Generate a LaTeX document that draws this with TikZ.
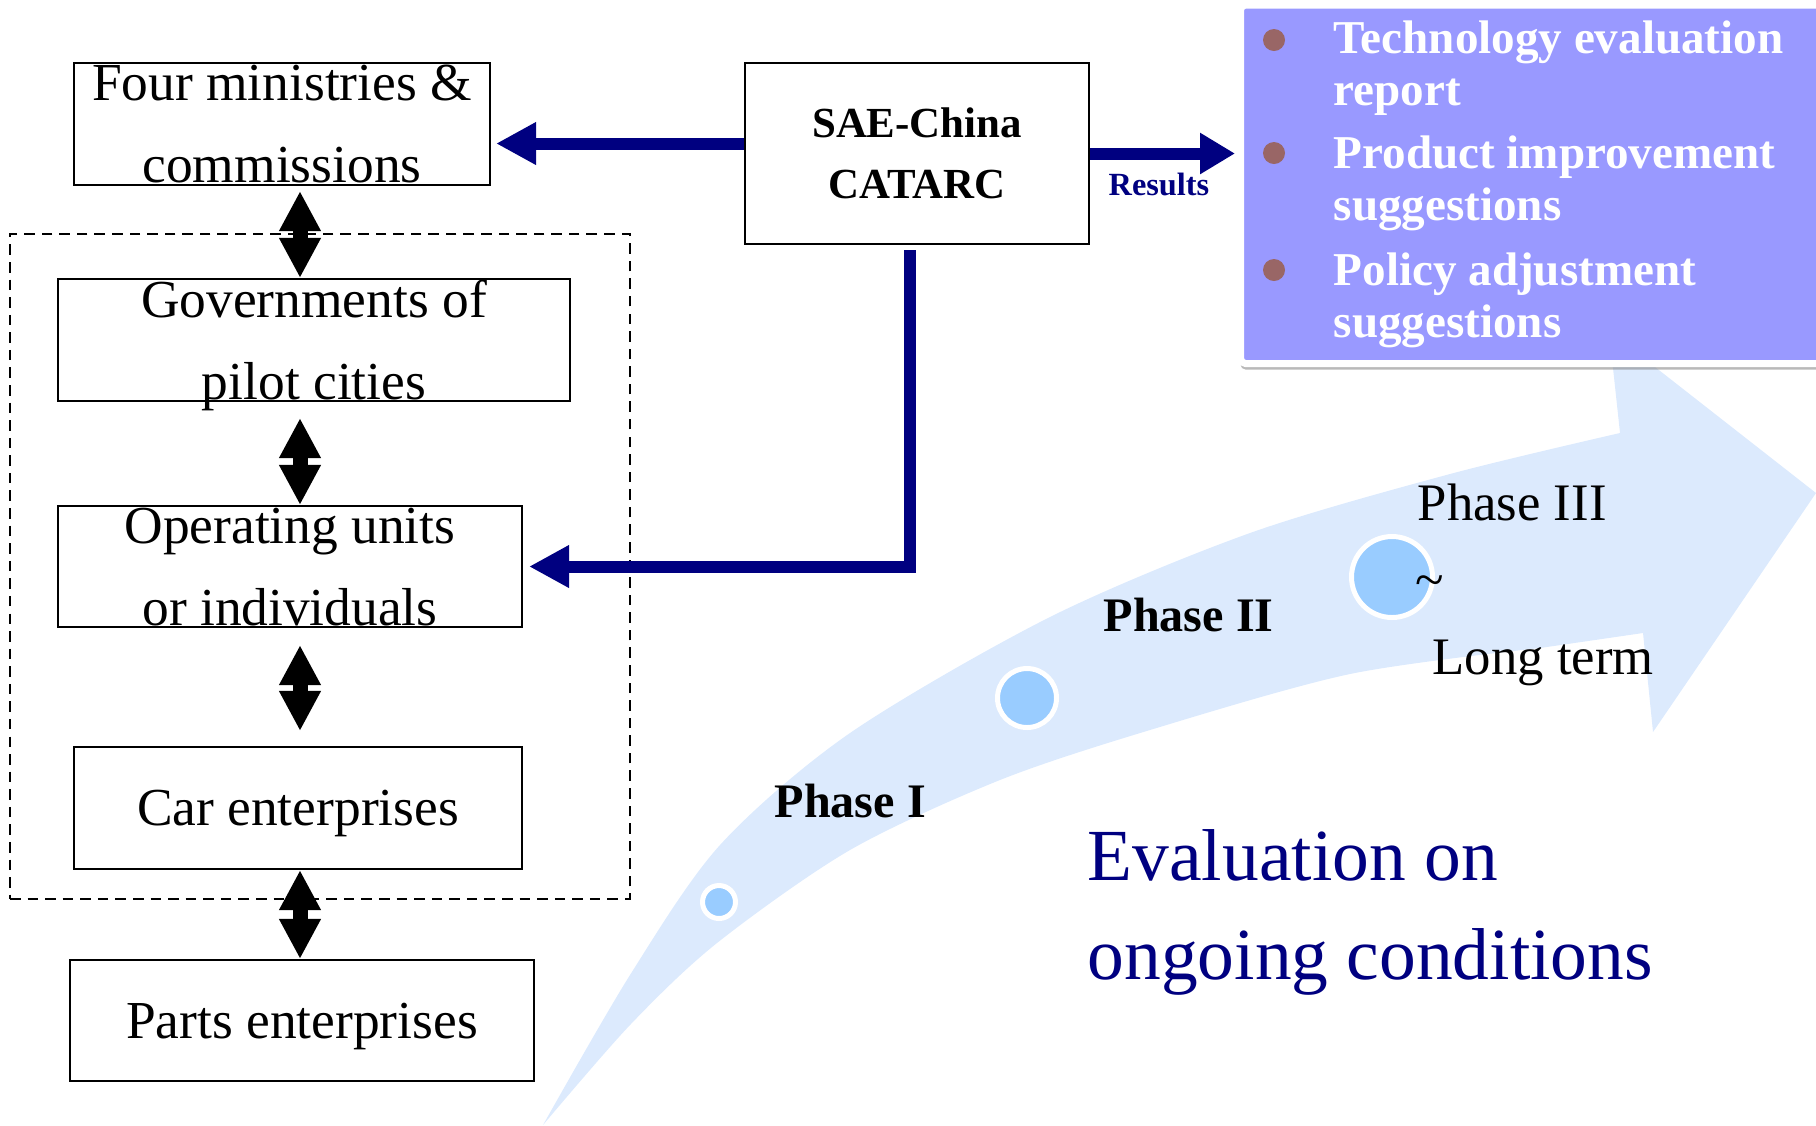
\documentclass[tikz,border=0pt]{standalone}
\usepackage{fontspec}
\setmainfont{Liberation Serif}
\usepackage{tikz}
\usetikzlibrary{arrows.meta}
\usetikzlibrary{shadows}

\definecolor{navyblue}{RGB}{0,0,128}
\definecolor{panelblue}{RGB}{153,153,255}
\definecolor{bulletbrown}{RGB}{153,102,102}
\definecolor{bandblue}{RGB}{220,234,253}
\definecolor{dotblue}{RGB}{153,204,255}

\tikzset{
  unitbox/.style={rectangle,draw,line width=0.6pt,inner sep=0pt,align=center,text depth=0pt,font=\fontsize{15.2}{23.4}\selectfont},
  dblarrow/.style={color=black,line width=0.15cm,{Triangle[width=0.39cm,length=0.4cm]}-{Triangle[width=0.39cm,length=0.4cm]}},
  navyarrow/.style={color=navyblue,line width=0.12cm,-{Triangle[width=0.4cm,length=0.4cm]}},
  phasedot/.style={circle,draw=white,line width=0.05cm,fill=dotblue,inner sep=0pt},
  itemtext/.style={anchor=north west,inner sep=0pt,align=left,text=white,font=\bfseries\fontsize{13.4}{14.8}\selectfont},
  phasetext/.style={anchor=base west,inner sep=0pt,font=\fontsize{15}{18}\selectfont},
}

\begin{document}
\begin{tikzpicture}[line join=miter]
        \useasboundingbox (0,0) rectangle (18.16,-11.25);
        %
        \fill [color=bandblue] plot [smooth] coordinates {(5.43,-11.25) (6.30,-9.75) (7.20,-8.45) (8.50,-7.33) (10.50,-6.17) (12.50,-5.33) (14.50,-4.74) (16.20,-4.33)}
            -- (16.09,-3.31) -- (18.16,-4.93) -- (16.53,-7.32) -- (16.43,-6.33)
            -- plot [smooth] coordinates {(15.40,-6.48) (13.50,-6.74) (11.50,-7.30) (10.00,-7.80) (8.50,-8.50) (7.17,-9.43) (6.30,-10.25) (5.43,-11.25)} -- cycle;
        %
        \node (group) at (3.20,-5.665) [draw,dash pattern=on 3pt off 2pt,line width=0.6pt,minimum width=6.20cm,minimum height=6.65cm] {};
        \node (four) at (2.82,-1.24) [unitbox,minimum width=4.16cm,minimum height=1.22cm] {Four ministries \&\\commissions};
        \node (gov) at (3.14,-3.40) [unitbox,minimum width=5.12cm,minimum height=1.22cm] {Governments of\\pilot cities};
        \node (oper) at (2.90,-5.665) [unitbox,minimum width=4.64cm,minimum height=1.21cm] {Operating units\\or individuals};
        \node (car) at (2.98,-8.08) [unitbox,minimum width=4.48cm,minimum height=1.22cm] {Car enterprises};
        \node (parts) at (3.02,-10.205) [unitbox,minimum width=4.64cm,minimum height=1.21cm] {Parts enterprises};
        \node (sae) at (9.17,-1.535) [unitbox,line width=0.8pt,minimum width=3.44cm,minimum height=1.81cm,font=\bfseries\fontsize{12.2}{17.4}\selectfont] {SAE-China\\CATARC};
        \coordinate (spine) at (3.00,0);
        %
        \draw [dblarrow,shorten <=0.05cm] (four.south -| spine) to (gov.north -| spine);
        \draw [dblarrow,shorten <=0.16cm] (gov.south -| spine) to (oper.north -| spine);
        \draw [dblarrow,shorten <=0.17cm,shorten >=0.15cm] (oper.south -| spine) to (car.north -| spine);
        \draw [dblarrow] (car.south -| spine) to (parts.north -| spine);
        %
        \node (panel) at (15.3275,-1.8425) [rectangle,fill=panelblue,draw=white,line width=0.07cm,rounded corners=0.05cm,minimum width=5.845cm,minimum height=3.585cm,drop shadow={shadow xshift=0pt,shadow yshift=-0.06cm,opacity=0.55}] {};
        \node (dot1) at (12.74,-0.40) [circle,fill=bulletbrown,minimum size=0.22cm,inner sep=0pt] {};
        \node (dot2) at (12.74,-1.53) [circle,fill=bulletbrown,minimum size=0.22cm,inner sep=0pt] {};
        \node (dot3) at (12.74,-2.70) [circle,fill=bulletbrown,minimum size=0.22cm,inner sep=0pt] {};
        \node (item1) at (13.33,-0.205) [itemtext] {Technology evaluation\\report};
        \node (item2) at (13.33,-1.355) [itemtext] {Product improvement\\suggestions};
        \node (item3) at (13.33,-2.525) [itemtext] {Policy adjustment\\suggestions};
        %
        \draw [navyarrow,shorten >=0.05cm] ([yshift=0.1cm]sae.west) to ([yshift=0.1cm]sae.west -| four.east);
        \draw [navyarrow,-{Triangle[width=0.39cm,length=0.35cm]},shorten >=0.02cm] (sae.east) to (sae.east -| panel.west);
        \draw [navyarrow,shorten >=0.06cm] ([xshift=-0.07cm,yshift=-0.05cm]sae.south) |- (oper.east);
        \node (reslabel) at (11.59,-1.845) [text=navyblue,inner sep=0pt,font=\bfseries\fontsize{9.2}{11}\selectfont] {Results};
        %
        \node (phase1dot) at (7.19,-9.02) [phasedot,minimum size=0.33cm] {};
        \node (phase2dot) at (10.27,-6.98) [phasedot,minimum size=0.59cm] {};
        \node (phase3dot) at (13.92,-5.77) [phasedot,minimum size=0.81cm] {};
        \node (phase1) at (7.74,-8.17) [phasetext,font=\bfseries\fontsize{13.7}{16}\selectfont] {Phase I};
        \node (phase2) at (11.03,-6.31) [phasetext,font=\bfseries\fontsize{13.7}{16}\selectfont] {Phase II};
        \node (phase3) at (14.17,-5.20) [phasetext] {Phase III};
        \node (tilde) at (14.30,-5.97) [phasetext,anchor=base] {\textasciitilde};
        \node (longterm) at (14.32,-6.74) [phasetext] {Long term};
        \node (evaluation) at (10.87,-8.285) [anchor=north west,inner sep=0pt,align=left,text=navyblue,font=\fontsize{20.9}{28.2}\selectfont] {Evaluation on\\ongoing conditions};
        %
    \end{tikzpicture}
\end{document}
